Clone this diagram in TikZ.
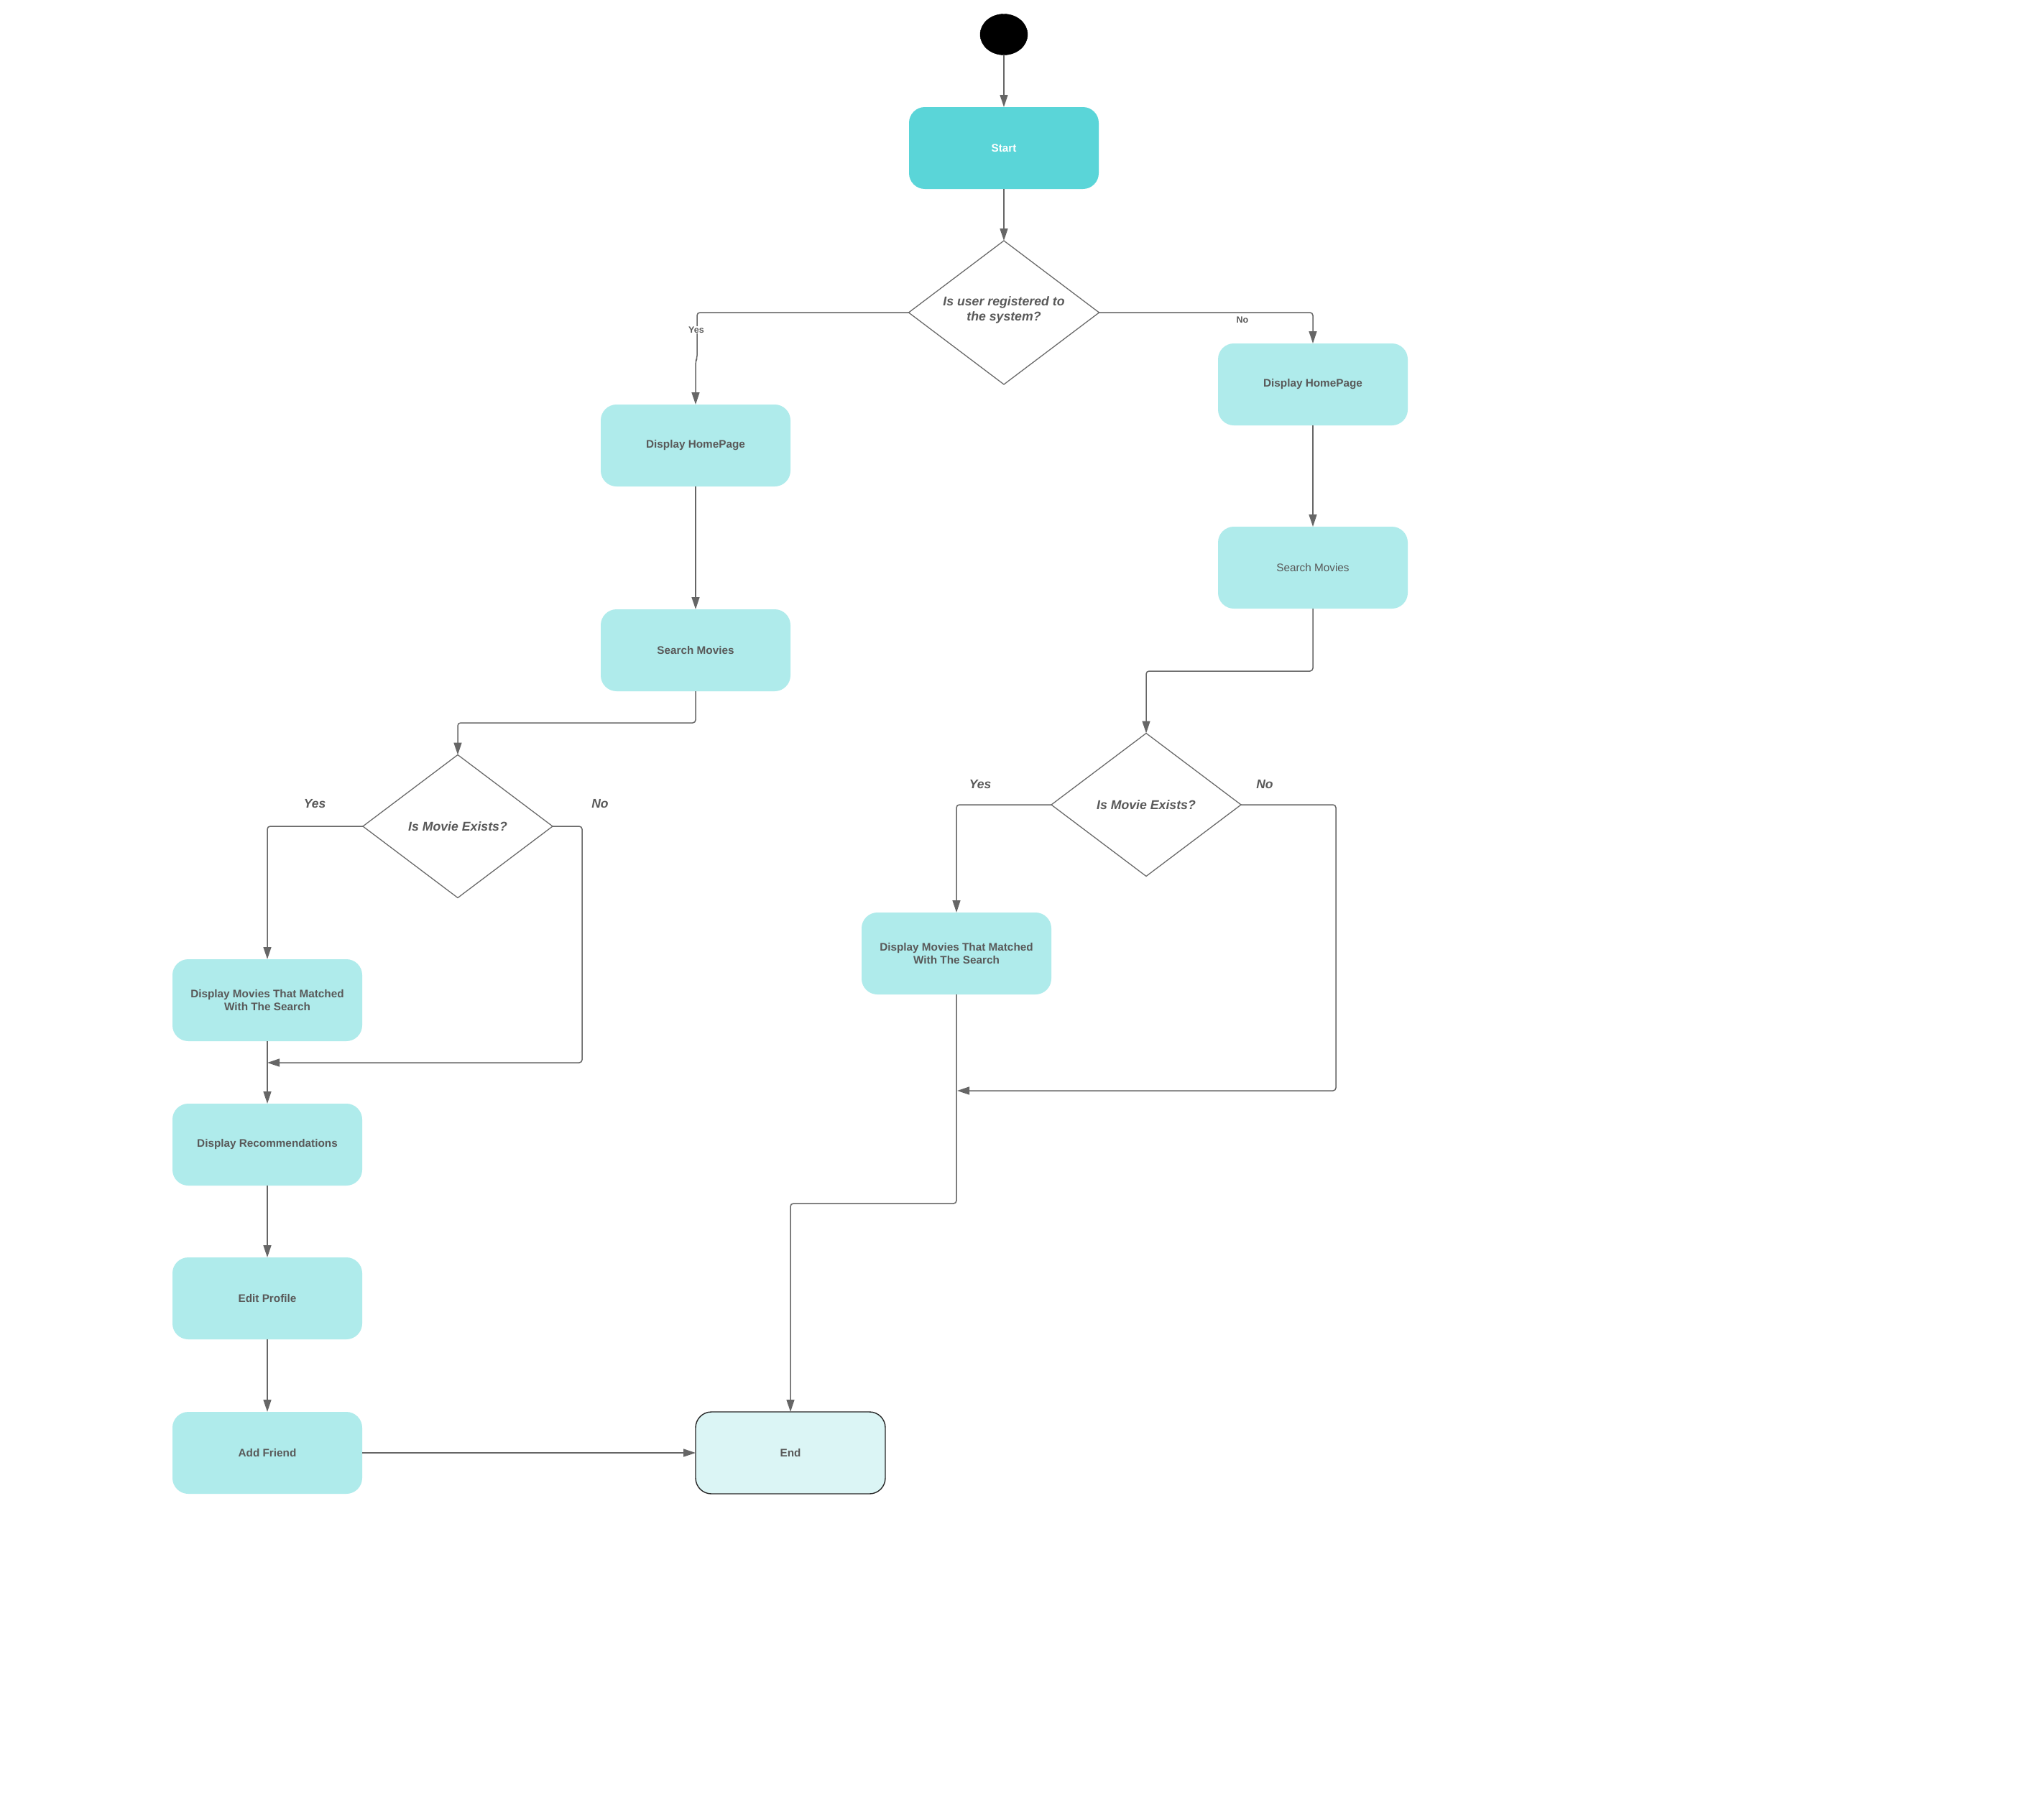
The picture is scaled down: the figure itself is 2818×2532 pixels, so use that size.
\documentclass[tikz,border=0pt]{standalone}
\usepackage{fontspec}
\setmainfont{Liberation Sans}
\usetikzlibrary{arrows.meta,shapes.geometric}
\definecolor{startfill}{HTML}{5AD5D8}
\definecolor{boxfill}{HTML}{AFEBEB}
\definecolor{endfill}{HTML}{DBF5F5}
\definecolor{txtgray}{HTML}{595959}
\definecolor{linegray}{HTML}{666666}
\tikzset{
  stepbox/.style={rectangle, rounded corners=22pt, fill=boxfill, draw=none,
    minimum width=264pt, minimum height=114pt, inner sep=0pt, outer sep=0pt,
    align=center, text=txtgray, font=\fontsize{15.3}{18.3}\selectfont\bfseries},
  plainbox/.style={stepbox, font=\fontsize{15.3}{18.3}\selectfont},
  startbox/.style={stepbox, fill=startfill, text=white},
  endbox/.style={stepbox, fill=endfill, draw=black!85, line width=1.4pt},
  decision/.style={diamond, aspect=1.325, draw=txtgray!90, line width=1.3pt, fill=white,
    minimum width=265pt, minimum height=200pt, inner sep=0pt, outer sep=0pt,
    align=center, text=txtgray,
    font=\fontsize{17.7}{21}\selectfont\bfseries\itshape},
  decisiontext/.style={align=center, text=txtgray, inner sep=0pt,
    font=\fontsize{17.7}{21}\selectfont\bfseries\itshape},
  initial/.style={ellipse, fill=black, draw=black, minimum width=66pt,
    minimum height=57pt, inner sep=0pt, outer sep=0pt},
  conn/.style={draw=linegray, line width=1.5pt, rounded corners=4pt,
    -{Triangle[length=17pt,width=11pt]}},
  smalllabel/.style={text=txtgray, font=\fontsize{12.5}{14}\selectfont\bfseries,
    inner sep=1pt},
  biglabel/.style={text=txtgray, font=\fontsize{17.5}{20}\selectfont\bfseries\itshape,
    inner sep=0pt},
}
\begin{document}
\begin{tikzpicture}[x=1pt,y=-1pt]
\useasboundingbox[fill=white] (0,0) rectangle (2818,2532);

% nodes
\node[initial] (init) at (1397,48) {};
\node[startbox] (start) at (1397,206) {Start};
\node[decision] (q1) at (1397,435) {};
\node[decisiontext] (q1text) at (1397,431) {Is user registered to\\the system?};

\node[stepbox] (dhL) at (968,620) {Display HomePage};
\node[stepbox] (smL) at (968,905) {Search Movies};
\node[decision, minimum width=264pt, minimum height=199pt] (q2) at (637,1150) {Is Movie Exists?};
\node[stepbox] (dmL) at (372,1392) {Display Movies That Matched\\With The Search};
\node[stepbox] (recs) at (372,1593) {Display Recommendations};
\node[stepbox] (edit) at (372,1807) {Edit Profile};
\node[stepbox] (friend) at (372,2022) {Add Friend};
\node[endbox] (end) at (1100,2022) {End};

\node[stepbox] (dhR) at (1827,535) {Display HomePage};
\node[plainbox] (smR) at (1827,790) {Search Movies};
\node[decision, minimum width=264pt, minimum height=199pt] (q3) at (1595,1120) {Is Movie Exists?};
\node[stepbox] (dmR) at (1331,1327) {Display Movies That Matched\\With The Search};

% merge points of the "No" branches
\coordinate (mergeL) at (372,1479);
\coordinate (mergeR) at (1332,1518);

% connectors
\draw[conn] (init.south) -- (start.north);
\draw[conn] (start.south) -- (q1.north);
\draw[conn] (q1.west) -- (970,435) -- (970,499) -- (968,503) -- (dhL.north);
\node[smalllabel, fill=white] (yes1) at (969,459) {Yes};
\draw[conn] (q1.east) -| (dhR.north);
\node[smalllabel] (no1) at (1729,445) {No};

\draw[conn] (dhL.south) -- (smL.north);
\draw[conn] (smL.south) -- (968,1006) -- (637,1006) -- (q2.north);
\draw[conn] (q2.west) -| (dmL.north);
\node[biglabel] (yes2) at (438,1119) {Yes};
\draw[conn] (q2.east) -- (810,1150) -- (810,1479) -- (mergeL);
\node[biglabel] (no2) at (835,1119) {No};
\draw[conn] (dmL.south) -- (recs.north);
\draw[conn] (recs.south) -- (edit.north);
\draw[conn] (edit.south) -- (friend.north);
\draw[conn] (friend.east) -- (end.west);

\draw[conn] (dhR.south) -- (smR.north);
\draw[conn] (smR.south) -- (1827,934) -- (1595,934) -- (q3.north);
\draw[conn] (q3.west) -| (dmR.north);
\node[biglabel] (yes3) at (1364,1092) {Yes};
\draw[conn] (q3.east) -- (1859,1120) -- (1859,1518) -- (mergeR);
\node[biglabel] (no3) at (1760,1092) {No};
\draw[conn] (dmR.south) -- (1331,1675) -- (1100,1675) -- (end.north);
\end{tikzpicture}
\end{document}
